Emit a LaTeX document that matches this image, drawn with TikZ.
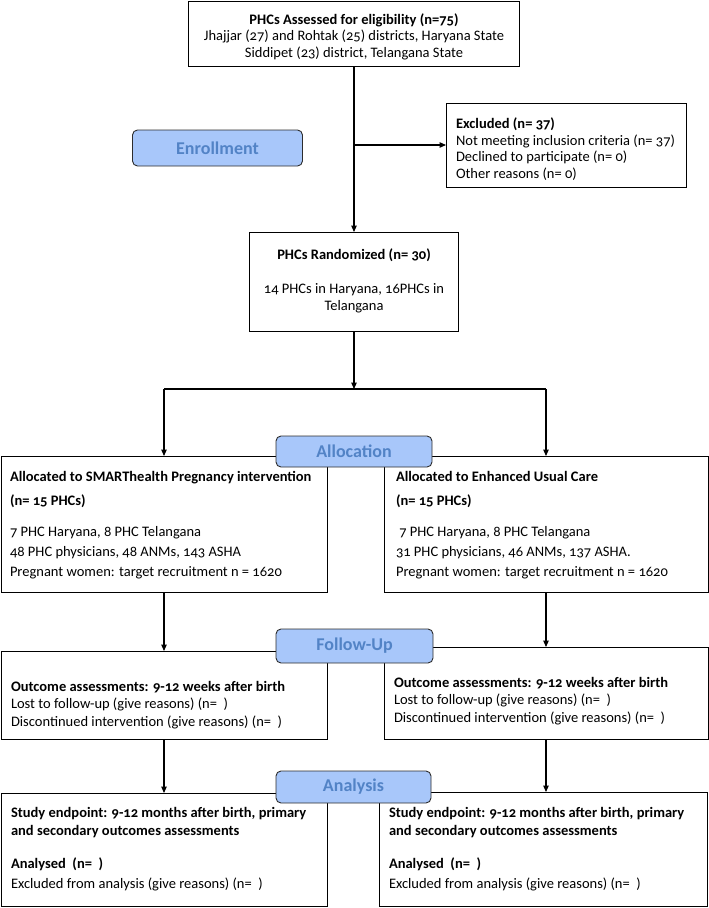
\documentclass[tikz,border=0pt]{standalone}
\usepackage{fontspec}
\setmainfont{Carlito}[Numbers=OldStyle]
\usetikzlibrary{arrows.meta}
\definecolor{stagefill}{RGB}{168,199,250}
\definecolor{stagetext}{RGB}{82,131,198}
\definecolor{stageedge}{RGB}{45,45,45}
\begin{document}
\begin{tikzpicture}[x=1pt,y=-1pt,
  box/.style={draw=black, line width=1pt, rectangle, inner sep=0pt, outer sep=0pt},
  stage/.style={draw=stageedge, fill=stagefill, line width=0.9pt, rounded corners=5pt,
    inner sep=0pt, outer sep=0pt, text=stagetext, font=\fontsize{18}{20}\selectfont\bfseries},
  body/.style={inner sep=0pt, outer sep=0pt, align=left, anchor=north west},
  conn/.style={line width=1.1pt, black},
  arr/.style={conn, -{Triangle[length=6.5pt,width=5.5pt]}}
]
\useasboundingbox (0,0) rectangle (709,908);

% boxes
\node[box, minimum width=331pt, minimum height=65pt] (top) at (354,33.5) {};
\node[box, minimum width=240pt, minimum height=84pt] (excl) at (566,145) {};
\node[box, minimum width=209pt, minimum height=99pt] (rand) at (354,281.5) {};
\node[box, minimum width=326pt, minimum height=136pt] (allocL) at (164,524) {};
\node[box, minimum width=324pt, minimum height=136pt] (allocR) at (546,524) {};
\node[box, minimum width=326pt, minimum height=88pt] (followL) at (164,695) {};
\node[box, minimum width=324pt, minimum height=92pt] (followR) at (546,693) {};
\node[box, minimum width=326pt, minimum height=113pt] (anaL) at (164,849.5) {};
\node[box, minimum width=328pt, minimum height=114pt] (anaR) at (543,849) {};

% texts
\node[inner sep=0pt, align=center, font=\fontsize{14.5}{16.5}\selectfont] (topT) at (354,36.5)
  {\textbf{PHCs Assessed for eligibility (n=75)}\\Jhajjar (27) and Rohtak (25) districts, Haryana State\\Siddipet (23) district, Telangana State};
\node[body, font=\fontsize{14.5}{16.5}\selectfont] (exclT) at (456,118)
  {\textbf{Excluded (n= 37)}\\Not meeting inclusion criteria (n= 37)\\Declined to participate (n= 0)\\Other reasons (n= 0)};
\node[inner sep=0pt, align=center, anchor=north, font=\fontsize{14.5}{17}\selectfont] (randT) at (354,249)
  {\textbf{PHCs Randomized (n= 30)}\\[17pt]14 PHCs in Haryana, 16PHCs in\\Telangana};
\node[body, font=\fontsize{14.5}{20}\selectfont] (allocLT) at (10,471)
  {\textbf{Allocated to SMARThealth Pregnancy intervention}\\[4pt]\textbf{(n= 15 PHCs)}\\[11pt]7 PHC Haryana, 8 PHC Telangana\\48 PHC physicians, 48 ANMs, 143 ASHA\\Pregnant women: target recruitment n = 1620};
\node[body, font=\fontsize{14.5}{20}\selectfont] (allocRT) at (396,471)
  {\textbf{Allocated to Enhanced Usual Care}\\[4pt]\textbf{(n= 15 PHCs)}\\[11pt]\ 7 PHC Haryana, 8 PHC Telangana\\31 PHC physicians, 46 ANMs, 137 ASHA.\\Pregnant women: target recruitment n = 1620};
\node[body, font=\fontsize{14.5}{17.5}\selectfont] (followLT) at (11,681)
  {\textbf{Outcome assessments: 9-12 weeks after birth}\\Lost to follow-up (give reasons) (n=\ \ )\\Discontinued intervention (give reasons) (n=\ \ )};
\node[body, font=\fontsize{14.5}{17.5}\selectfont] (followRT) at (394,677)
  {\textbf{Outcome assessments: 9-12 weeks after birth}\\Lost to follow-up (give reasons) (n=\ \ )\\Discontinued intervention (give reasons) (n=\ \ )};
\node[body, font=\fontsize{14.5}{18}\selectfont] (anaLT) at (11,807)
  {\textbf{Study endpoint: 9-12 months after birth, primary}\\\textbf{and secondary outcomes assessments}\\[15pt]\textbf{Analysed\ \ (n=\ \ )}\\[2pt]Excluded from analysis (give reasons) (n=\ \ )};
\node[body, font=\fontsize{14.5}{18}\selectfont] (anaRT) at (389,807)
  {\textbf{Study endpoint: 9-12 months after birth, primary}\\\textbf{and secondary outcomes assessments}\\[15pt]\textbf{Analysed\ \ (n=\ \ )}\\[2pt]Excluded from analysis (give reasons) (n=\ \ )};

% connectors
\coordinate (split) at (354,389);
\draw[arr] (top.south) -- (rand.north);
\draw[arr] (top.south |- excl.west) -- (excl.west);
\draw[arr] (rand.south) -- (split);
\draw[conn] (allocL.north |- split) -- (allocR.north |- split);
\draw[arr] (allocL.north |- split) -- (allocL.north);
\draw[arr] (allocR.north |- split) -- (allocR.north);
\draw[arr] (allocL.south) -- (allocL.south |- followL.north);
\draw[arr] (allocR.south) -- (allocR.south |- followR.north);
\draw[arr] (followL.south) -- (followL.south |- anaL.north);
\draw[arr] (followR.south) -- (followR.south |- anaR.north);

% stage labels
\node[stage, minimum width=170pt, minimum height=36pt] (enroll) at (217.5,148) {Enrollment};
\node[stage, minimum width=156pt, minimum height=31pt] (allocS) at (354,451.5) {Allocation};
\node[stage, minimum width=157pt, minimum height=34pt] (followS) at (354.5,646) {Follow-Up};
\node[stage, minimum width=155pt, minimum height=32pt] (anaS) at (353.5,787) {Analysis};
\end{tikzpicture}
\end{document}
